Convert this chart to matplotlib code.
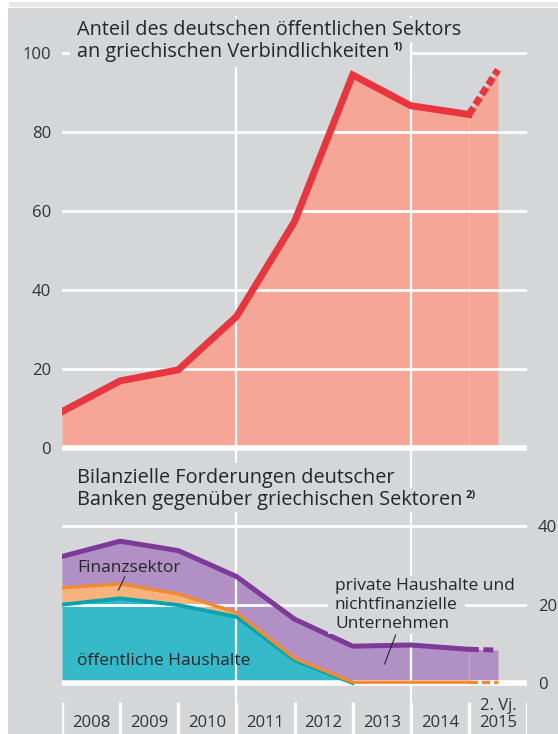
import matplotlib
matplotlib.use('Agg')
import matplotlib.pyplot as plt
from matplotlib.patches import Rectangle
from matplotlib.transforms import IdentityTransform

plt.rcParams['font.family'] = ['Open Sans', 'DejaVu Sans']

# data
jahre = [2008, 2009, 2010, 2011, 2012, 2013, 2014, 2015, 2015.5]
anteil = [9.1, 16.9, 19.7, 33.2, 57.3, 94.5, 86.7, 84.5, 95.8]
oeffentlich = [20.0, 21.6, 19.9, 16.9, 5.8, 0, 0, 0, 0]
finanz = [4.3, 3.7, 2.8, 1.1, 0.5, 0.2, 0.2, 0.2, 0.2]
privat = [8.0, 10.9, 11.1, 9.2, 10.0, 9.2, 9.5, 8.4, 8.2]
jahr_labels = ['2008', '2009', '2010', '2011', '2012', '2013', '2014', '2. Vj.\n2015']
ticks_oben = [0, 20, 40, 60, 80, 100]
ticks_unten = [0, 20, 40]

W, H = 558, 734
BG = '#d5d6d8'
TXT = '#262626'

fig = plt.figure(figsize=(W / 100, H / 100), dpi=100)
fig.patch.set_facecolor('white')
fig.add_artist(Rectangle((8 / W, 0), 1, 1 - 8 / H, transform=fig.transFigure,
                         facecolor=BG, edgecolor='none', zorder=-10))
fig.add_artist(Rectangle((9 / W, 1 - 7 / H), 1, 5 / H, transform=fig.transFigure,
                         facecolor='#e8e8e8', edgecolor='none', zorder=-10))


def px_axes(l, t, r, b):
    ax = fig.add_axes([l / W, 1 - b / H, (r - l) / W, (b - t) / H])
    ax.set_facecolor('none')
    for s in ax.spines.values():
        s.set_visible(False)
    ax.set_xlim(2008, 2016)
    ax.set_xticks([])
    return ax


# top chart
ax1 = px_axes(62, 16, 527, 490)
ax1.set_ylim(-10.78, 109.46)
ax1.set_yticks(ticks_oben)
ax1.tick_params(axis='y', length=0, pad=8, labelsize=12, labelcolor='#333333')
ax1.set_axisbelow('line')
ax1.grid(axis='y', color='white', lw=2)
ax1.axhline(0, color='white', lw=4, zorder=1.6)
for xv in (2011, 2014):
    ax1.axvline(xv, color='white', lw=1.6, zorder=1.5)
ax1.fill_between(jahre, anteil, 0, color='#f5a696', lw=0, zorder=1)
ax1.vlines(jahre[-2], 0, anteil[-2], color='#f8b8aa', lw=0.8, zorder=1.1)
ax1.plot(jahre[:-1], anteil[:-1], color='#e8363f', lw=5, solid_joinstyle='miter', zorder=3)
ax1.plot(jahre[-2:], anteil[-2:], color='#e8363f', lw=5, ls=(0, (1.2, 0.5)),
         dash_capstyle='butt', zorder=3)

# bottom chart
ax2 = px_axes(62, 490, 527, 702)
ax2.set_ylim(-4.85, 49.27)
ax2.set_yticks(ticks_unten)
ax2.yaxis.tick_right()
ax2.tick_params(axis='y', length=0, pad=8, labelsize=12, labelcolor='#333333')
ax2.set_axisbelow('line')
ax2.grid(axis='y', color='white', lw=2)
ax2.axhline(0, color='white', lw=4, zorder=1.6)
for xv in (2011, 2014):
    ax2.axvline(xv, color='white', lw=1.6, zorder=1.5)

stufe1 = oeffentlich
stufe2 = [a + b for a, b in zip(oeffentlich, finanz)]
stufe3 = [a + b for a, b in zip(stufe2, privat)]
ax2.fill_between(jahre, stufe1, 0, color='#36b9c9', lw=0, zorder=1)
ax2.fill_between(jahre, stufe2, stufe1, color='#f8b27c', lw=0, zorder=1)
ax2.fill_between(jahre, stufe3, stufe2, color='#b191c5', lw=0, zorder=1)
ax2.vlines(jahre[-2], stufe2[-2], stufe3[-2], color='#c2a8d2', lw=0.8, zorder=1.1)
ax2.plot(jahre[:6], stufe1[:6], color='#0aa2ad', lw=2.8, zorder=3)
ax2.plot(jahre[:-1], stufe2[:-1], color='#f28a30', lw=2.4, zorder=3.1)
ax2.plot(jahre[-2:], stufe2[-2:], color='#f28a30', lw=2.4, ls=(0, (2.5, 1.2)), zorder=3.1)
ax2.plot(jahre[:-1], stufe3[:-1], color='#7d3a98', lw=3.6, zorder=3.2)
ax2.plot(jahre[-2:], stufe3[-2:], color='#7d3a98', lw=3.6, ls=(0, (2, 0.9)),
         dash_capstyle='butt', zorder=3.2)
ax2.plot([2009.08, 2008.97], [27.1, 23.7], color=TXT, lw=0.8, zorder=4)
ax2.plot([2013.74, 2013.55], [12.25, 4.85], color=TXT, lw=0.8, zorder=4)

# year strip
ax3 = px_axes(62, 702, 527, 734)
ax3.set_ylim(0, 1)
ax3.set_yticks([])
ax3.vlines(range(2008, 2017), 0, 1, color='white', lw=2.4)
for i, lab in enumerate(jahr_labels):
    ax3.text(2008.5 + i, 0.22, lab, ha='center', va='baseline', fontsize=12,
             color='#333333', linespacing=1.05)


def ftext(x, y, s, **kw):
    return fig.text(x / W, 1 - y / H, s, va='baseline', color=TXT, **kw)


masked = []
t = ftext(77, 35, 'Anteil des deutschen öffentlichen Sektors', fontsize=14.3)
masked.append([t])
t = ftext(77, 57, 'an griechischen Verbindlichkeiten', fontsize=14.3)
s1 = ftext(0, 50, '1)', fontsize=8, fontweight='bold')
masked.append([t, s1])
t = ftext(77, 483, 'Bilanzielle Forderungen deutscher', fontsize=14.3)
masked.append([t])
t = ftext(77, 505, 'Banken gegenüber griechischen Sektoren', fontsize=14.3)
s2 = ftext(0, 498, '2)', fontsize=8, fontweight='bold')
masked.append([t, s2])

ftext(77, 572, 'Finanzsektor', fontsize=12.5)
ftext(77, 665, 'öffentliche Haushalte', fontsize=12.5)
for i, zeile in enumerate(['private Haushalte und', 'nichtfinanzielle', 'Unternehmen']):
    t = ftext(335, 590 + 19 * i, zeile, fontsize=12.5)
    masked.append([t])

fig.canvas.draw()
r = fig.canvas.get_renderer()
for sup, grp in ((s1, masked[1]), (s2, masked[3])):
    bb = grp[0].get_window_extent(r)
    sup.set_x((bb.x1 + 3) / W)

for k, grp in enumerate(masked):
    bbs = [a.get_window_extent(r) for a in grp]
    vpad = 5 if k in (1, 2) else 2
    x0 = min(b.x0 for b in bbs) - 7
    x1 = max(b.x1 for b in bbs) + 7
    y0 = min(b.y0 for b in bbs) - vpad
    y1 = max(b.y1 for b in bbs) + vpad
    fig.add_artist(Rectangle((x0, y0), x1 - x0, y1 - y0, transform=IdentityTransform(),
                             facecolor=BG, edgecolor='none', zorder=1))

fig.savefig('out.png', dpi=100, facecolor=fig.get_facecolor())
